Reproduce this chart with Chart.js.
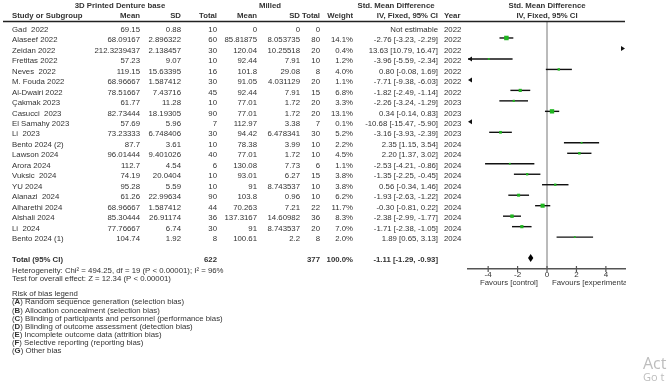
<!DOCTYPE html>
<html>
<head>
<meta charset="utf-8">
<script src="https://cdn.jsdelivr.net/npm/chart.js@4.4.1/dist/chart.umd.min.js"></script>
<style>
  html, body { margin: 0; padding: 0; background: #fff; }
  #wrap { width: 669px; height: 385px; }
</style>
</head>
<body>
<div id="wrap"><canvas id="forest" width="669" height="385"></canvas></div>
<script>
// study rows, top to bottom
const studies = ['Gad  2022', 'Alaseef 2022', 'Zeidan 2022', 'Fretitas 2022', 'Neves  2022', 'M. Fouda 2022',
  'Al-Dwairi 2022', 'Çakmak 2023', 'Casucci  2023', 'El Samahy 2023', 'Li  2023', 'Bento 2024 (2)',
  'Lawson 2024', 'Arora 2024', 'Vuksic  2024', 'YU 2024', 'Alanazi  2024', 'Alharethi 2024',
  'Alshali 2024', 'Li  2024', 'Bento 2024 (1)'];
const years = [2022, 2022, 2022, 2022, 2022, 2022, 2022, 2023, 2023, 2023, 2023, 2024, 2024, 2024, 2024,
  2024, 2024, 2024, 2024, 2024, 2024];

// 3D printed denture base
const expMean = [69.15, 68.09167, 212.3239437, 57.23, 119.15, 68.96667, 78.51667, 61.77, 82.73444, 57.69,
  73.23333, 87.7, 96.01444, 112.7, 74.19, 95.28, 61.26, 68.96667, 85.30444, 77.76667, 104.74];
const expSD = [0.88, 2.896322, 2.138457, 9.07, 15.63395, 1.587412, 7.43716, 11.28, 18.19305, 5.96,
  6.748406, 3.61, 9.401026, 4.54, 20.0404, 5.59, 22.99634, 1.587412, 26.91174, 6.74, 1.92];
const expN = [10, 60, 30, 10, 16, 30, 45, 10, 90, 7, 30, 10, 40, 6, 10, 10, 90, 44, 36, 30, 8];

// milled
const ctlMean = [0, 85.81875, 120.04, 92.44, 101.8, 91.05, 92.44, 77.01, 77.01, 112.97, 94.42, 78.38,
  77.01, 130.08, 93.01, 91, 103.8, 70.263, 137.3167, 91, 100.61];
const ctlSD = [0, 8.053735, 10.25518, 7.91, 29.08, 4.031129, 7.91, 1.72, 1.72, 3.38, 6.478341, 3.99,
  1.72, 7.73, 6.27, 8.743537, 0.96, 7.21, 14.60982, 8.743537, 2.2];
const ctlN = [0, 80, 20, 10, 8, 20, 15, 20, 20, 7, 30, 10, 10, 6, 15, 10, 10, 22, 36, 20, 8];

// std. mean difference, IV fixed, 95% CI
const weights = [null, 14.1, 0.4, 1.2, 4.0, 1.1, 6.8, 3.3, 13.1, 0.1, 5.2, 2.2, 4.5, 1.1, 3.8, 3.8, 6.2,
  11.7, 8.3, 7.0, 2.0];
const smd = [null, -2.76, 13.63, -3.96, 0.80, -7.71, -1.82, -2.26, 0.34, -10.68, -3.16, 2.35, 2.20, -2.53,
  -1.35, 0.56, -1.93, -0.30, -2.38, -1.71, 1.89];
const ciLow = [null, -3.23, 10.79, -5.59, -0.08, -9.38, -2.49, -3.24, -0.14, -15.47, -3.93, 1.15, 1.37,
  -4.21, -2.25, -0.34, -2.63, -0.81, -2.99, -2.38, 0.65];
const ciHigh = [null, -2.29, 16.47, -2.34, 1.69, -6.03, -1.14, -1.29, 0.83, -5.90, -2.39, 3.54, 3.02,
  -0.86, -0.45, 1.46, -1.22, 0.22, -1.77, -1.05, 3.13];

const totalN = [622, 377];
const pooled = [-1.11, -1.29, -0.93];   // estimate, low, high
const xTicks = [-4, -2, 0, 2, 4];

const biasLetters = ['A', 'B', 'C', 'D', 'E', 'F', 'G'];
const biasText = ['Random sequence generation (selection bias)', 'Allocation concealment (selection bias)',
  'Blinding of participants and personnel (performance bias)', 'Blinding of outcome assessment (detection bias)',
  'Incomplete outcome data (attrition bias)', 'Selective reporting (reporting bias)', 'Other bias'];

const FONT = '"Liberation Sans", Arial, sans-serif';
const FS = '7.8px ';
const TXT = '#333';
const GREEN = '#1fb51f';
const TOTAL_ROW = 22;

function fmt(v) { return v.toFixed(2); }

function put(c, s, x, y, align, bold) {
  c.font = (bold ? 'bold ' : '') + FS + FONT;
  c.textAlign = align || 'left';
  c.textBaseline = 'middle';
  c.fillStyle = TXT;
  c.fillText(s, x, y);
}

function arrow(c, x, y, dir) {
  c.beginPath();
  c.moveTo(x, y);
  c.lineTo(x - dir * 4, y - 2.5);
  c.lineTo(x - dir * 4, y + 2.5);
  c.closePath();
  c.fill();
}

// lines under the squares: zero line, CIs, arrows, diamond
const marksPlugin = {
  id: 'marks',
  beforeDatasetsDraw(chart) {
    const c = chart.ctx, xs = chart.scales.x, ys = chart.scales.y;
    c.save();
    // line of no effect
    const x0 = xs.getPixelForValue(0);
    c.strokeStyle = '#777';
    c.lineWidth = 1;
    c.beginPath();
    c.moveTo(x0, 21.5);
    c.lineTo(x0, chart.chartArea.bottom);
    c.stroke();

    c.strokeStyle = '#111';
    c.fillStyle = '#111';
    c.lineWidth = 1.4;
    for (let i = 0; i < studies.length; i++) {
      if (smd[i] === null) continue;
      const y = ys.getPixelForValue(i);
      if (ciHigh[i] < xs.min) { arrow(c, xs.left, y, -1); continue; }
      if (ciLow[i] > xs.max) { arrow(c, xs.right, y, 1); continue; }
      const a = xs.getPixelForValue(Math.max(ciLow[i], xs.min));
      const b = xs.getPixelForValue(Math.min(ciHigh[i], xs.max));
      c.beginPath();
      c.moveTo(a, y);
      c.lineTo(b, y);
      c.stroke();
      if (ciLow[i] < xs.min) arrow(c, xs.left, y, -1);
      if (ciHigh[i] > xs.max) arrow(c, xs.right, y, 1);
    }

    // pooled diamond
    const yd = ys.getPixelForValue(TOTAL_ROW);
    c.fillStyle = '#000';
    c.beginPath();
    c.moveTo(xs.getPixelForValue(pooled[1]), yd);
    c.lineTo(xs.getPixelForValue(pooled[0]), yd - 4);
    c.lineTo(xs.getPixelForValue(pooled[2]), yd);
    c.lineTo(xs.getPixelForValue(pooled[0]), yd + 4);
    c.closePath();
    c.fill();

    // tick marks crossing the axis
    const ya = chart.chartArea.bottom;
    c.strokeStyle = '#555';
    c.lineWidth = 1.2;
    xTicks.forEach(t => {
      const xt = xs.getPixelForValue(t);
      c.beginPath();
      c.moveTo(xt, ya - 3);
      c.lineTo(xt, ya + 3);
      c.stroke();
    });
    c.restore();
  }
};

// the table, headings and footnotes
const tablePlugin = {
  id: 'table',
  afterDraw(chart) {
    const c = chart.ctx, ys = chart.scales.y, xs = chart.scales.x;
    const x0 = xs.getPixelForValue(0);
    c.save();
    // headings
    put(c, '3D Printed Denture base', 120, 6, 'center', true);
    put(c, 'Milled', 270, 6, 'center', true);
    put(c, 'Std. Mean Difference', 396, 6, 'center', true);
    put(c, 'Std. Mean Difference', x0, 6, 'center', true);
    put(c, 'Study or Subgroup', 12, 15.7, 'left', true);
    put(c, 'Mean', 140, 15.7, 'right', true);
    put(c, 'SD', 181, 15.7, 'right', true);
    put(c, 'Total', 217, 15.7, 'right', true);
    put(c, 'Mean', 257, 15.7, 'right', true);
    put(c, 'SD', 300, 15.7, 'right', true);
    put(c, 'Total', 320, 15.7, 'right', true);
    put(c, 'Weight', 353, 15.7, 'right', true);
    put(c, 'IV, Fixed, 95% CI', 438, 15.7, 'right', true);
    put(c, 'Year', 444, 15.7, 'left', true);
    put(c, 'IV, Fixed, 95% CI', x0, 15.7, 'center', true);

    c.strokeStyle = '#222';
    c.lineWidth = 1.5;
    c.beginPath();
    c.moveTo(3, 21.5);
    c.lineTo(xs.right, 21.5);
    c.stroke();

    // study rows
    for (let i = 0; i < studies.length; i++) {
      const y = ys.getPixelForValue(i) + 2;
      put(c, studies[i], 12, y);
      put(c, String(expMean[i]), 140, y, 'right');
      put(c, String(expSD[i]), 181, y, 'right');
      put(c, String(expN[i]), 217, y, 'right');
      put(c, String(ctlMean[i]), 257, y, 'right');
      put(c, String(ctlSD[i]), 300, y, 'right');
      put(c, String(ctlN[i]), 320, y, 'right');
      if (weights[i] !== null) put(c, weights[i].toFixed(1) + '%', 353, y, 'right');
      const ci = smd[i] === null ? 'Not estimable'
        : fmt(smd[i]) + ' [' + fmt(ciLow[i]) + ', ' + fmt(ciHigh[i]) + ']';
      put(c, ci, 438, y, 'right');
      put(c, String(years[i]), 444, y);
    }

    // total
    const yt = ys.getPixelForValue(TOTAL_ROW) + 2;
    put(c, 'Total (95% CI)', 12, yt, 'left', true);
    put(c, String(totalN[0]), 217, yt, 'right', true);
    put(c, String(totalN[1]), 320, yt, 'right', true);
    put(c, '100.0%', 353, yt, 'right', true);
    put(c, fmt(pooled[0]) + ' [' + fmt(pooled[1]) + ', ' + fmt(pooled[2]) + ']', 438, yt, 'right', true);
    put(c, 'Heterogeneity: Chi² = 494.25, df = 19 (P < 0.00001); I² = 96%', 12, 270.7);
    put(c, 'Test for overall effect: Z = 12.34 (P < 0.00001)', 12, 278.7);

    // favours labels, cut at the picture edge like the original
    c.save();
    c.beginPath();
    c.rect(0, 0, xs.right + 1, 385);
    c.clip();
    put(c, 'Favours [control]', x0 - 9, 283, 'right');
    put(c, 'Favours [experimental]', x0 + 5, 283, 'left');
    c.restore();

    // risk of bias legend
    put(c, 'Risk of bias legend', 12, 294.3);
    c.font = FS + FONT;
    const w = c.measureText('Risk of bias legend').width;
    c.strokeStyle = TXT;
    c.lineWidth = 0.7;
    c.beginPath();
    c.moveTo(12, 298.5);
    c.lineTo(12 + w, 298.5);
    c.stroke();
    for (let k = 0; k < biasLetters.length; k++) {
      const y = 302.3 + k * 8.06;
      let x = 12;
      put(c, '(', x, y);
      c.font = FS + FONT;
      x += c.measureText('(').width;
      put(c, biasLetters[k], x, y, 'left', true);
      c.font = 'bold ' + FS + FONT;
      x += c.measureText(biasLetters[k]).width;
      put(c, ') ' + biasText[k], x, y);
    }

    // leftover watermark in the screenshot
    c.fillStyle = '#bdbdbd';
    c.textAlign = 'left';
    c.textBaseline = 'alphabetic';
    c.font = '16px "Open Sans", "Noto Sans", sans-serif';
    c.fillText('Act', 643, 369);
    c.font = '11px "Open Sans", "Noto Sans", sans-serif';
    c.fillText('Go t', 643, 381);
    c.restore();
  }
};

const points = [];
for (let i = 0; i < studies.length; i++) {
  if (smd[i] !== null) points.push({ x: smd[i], y: i });
}

new Chart(document.getElementById('forest').getContext('2d'), {
  type: 'scatter',
  data: {
    datasets: [{
      data: points,
      pointStyle: 'rect',
      backgroundColor: GREEN,
      borderWidth: 0,
      pointRadius: ctx => Math.max(1.8, 1.2 * Math.sqrt(weights[ctx.raw.y])) / 1.414
    }]
  },
  options: {
    responsive: false,
    animation: false,
    devicePixelRatio: 1,
    layout: { padding: { left: 468, right: 44, top: 21, bottom: 0 } },
    plugins: { legend: { display: false }, tooltip: { enabled: false } },
    scales: {
      x: {
        type: 'linear',
        min: -5.37,
        max: 5.3,
        afterFit(scale) { scale.height = 116; },
        afterBuildTicks(scale) { scale.ticks = xTicks.map(v => ({ value: v })); },
        border: { display: true, color: '#555', width: 1.5 },
        grid: { display: false, drawTicks: false },
        ticks: { color: TXT, padding: 1, font: { size: 8, family: FONT } }
      },
      y: {
        type: 'linear',
        display: false,
        reverse: true,
        min: -0.62,
        max: 23.04
      }
    }
  },
  plugins: [marksPlugin, tablePlugin]
});
</script>
</body>
</html>
